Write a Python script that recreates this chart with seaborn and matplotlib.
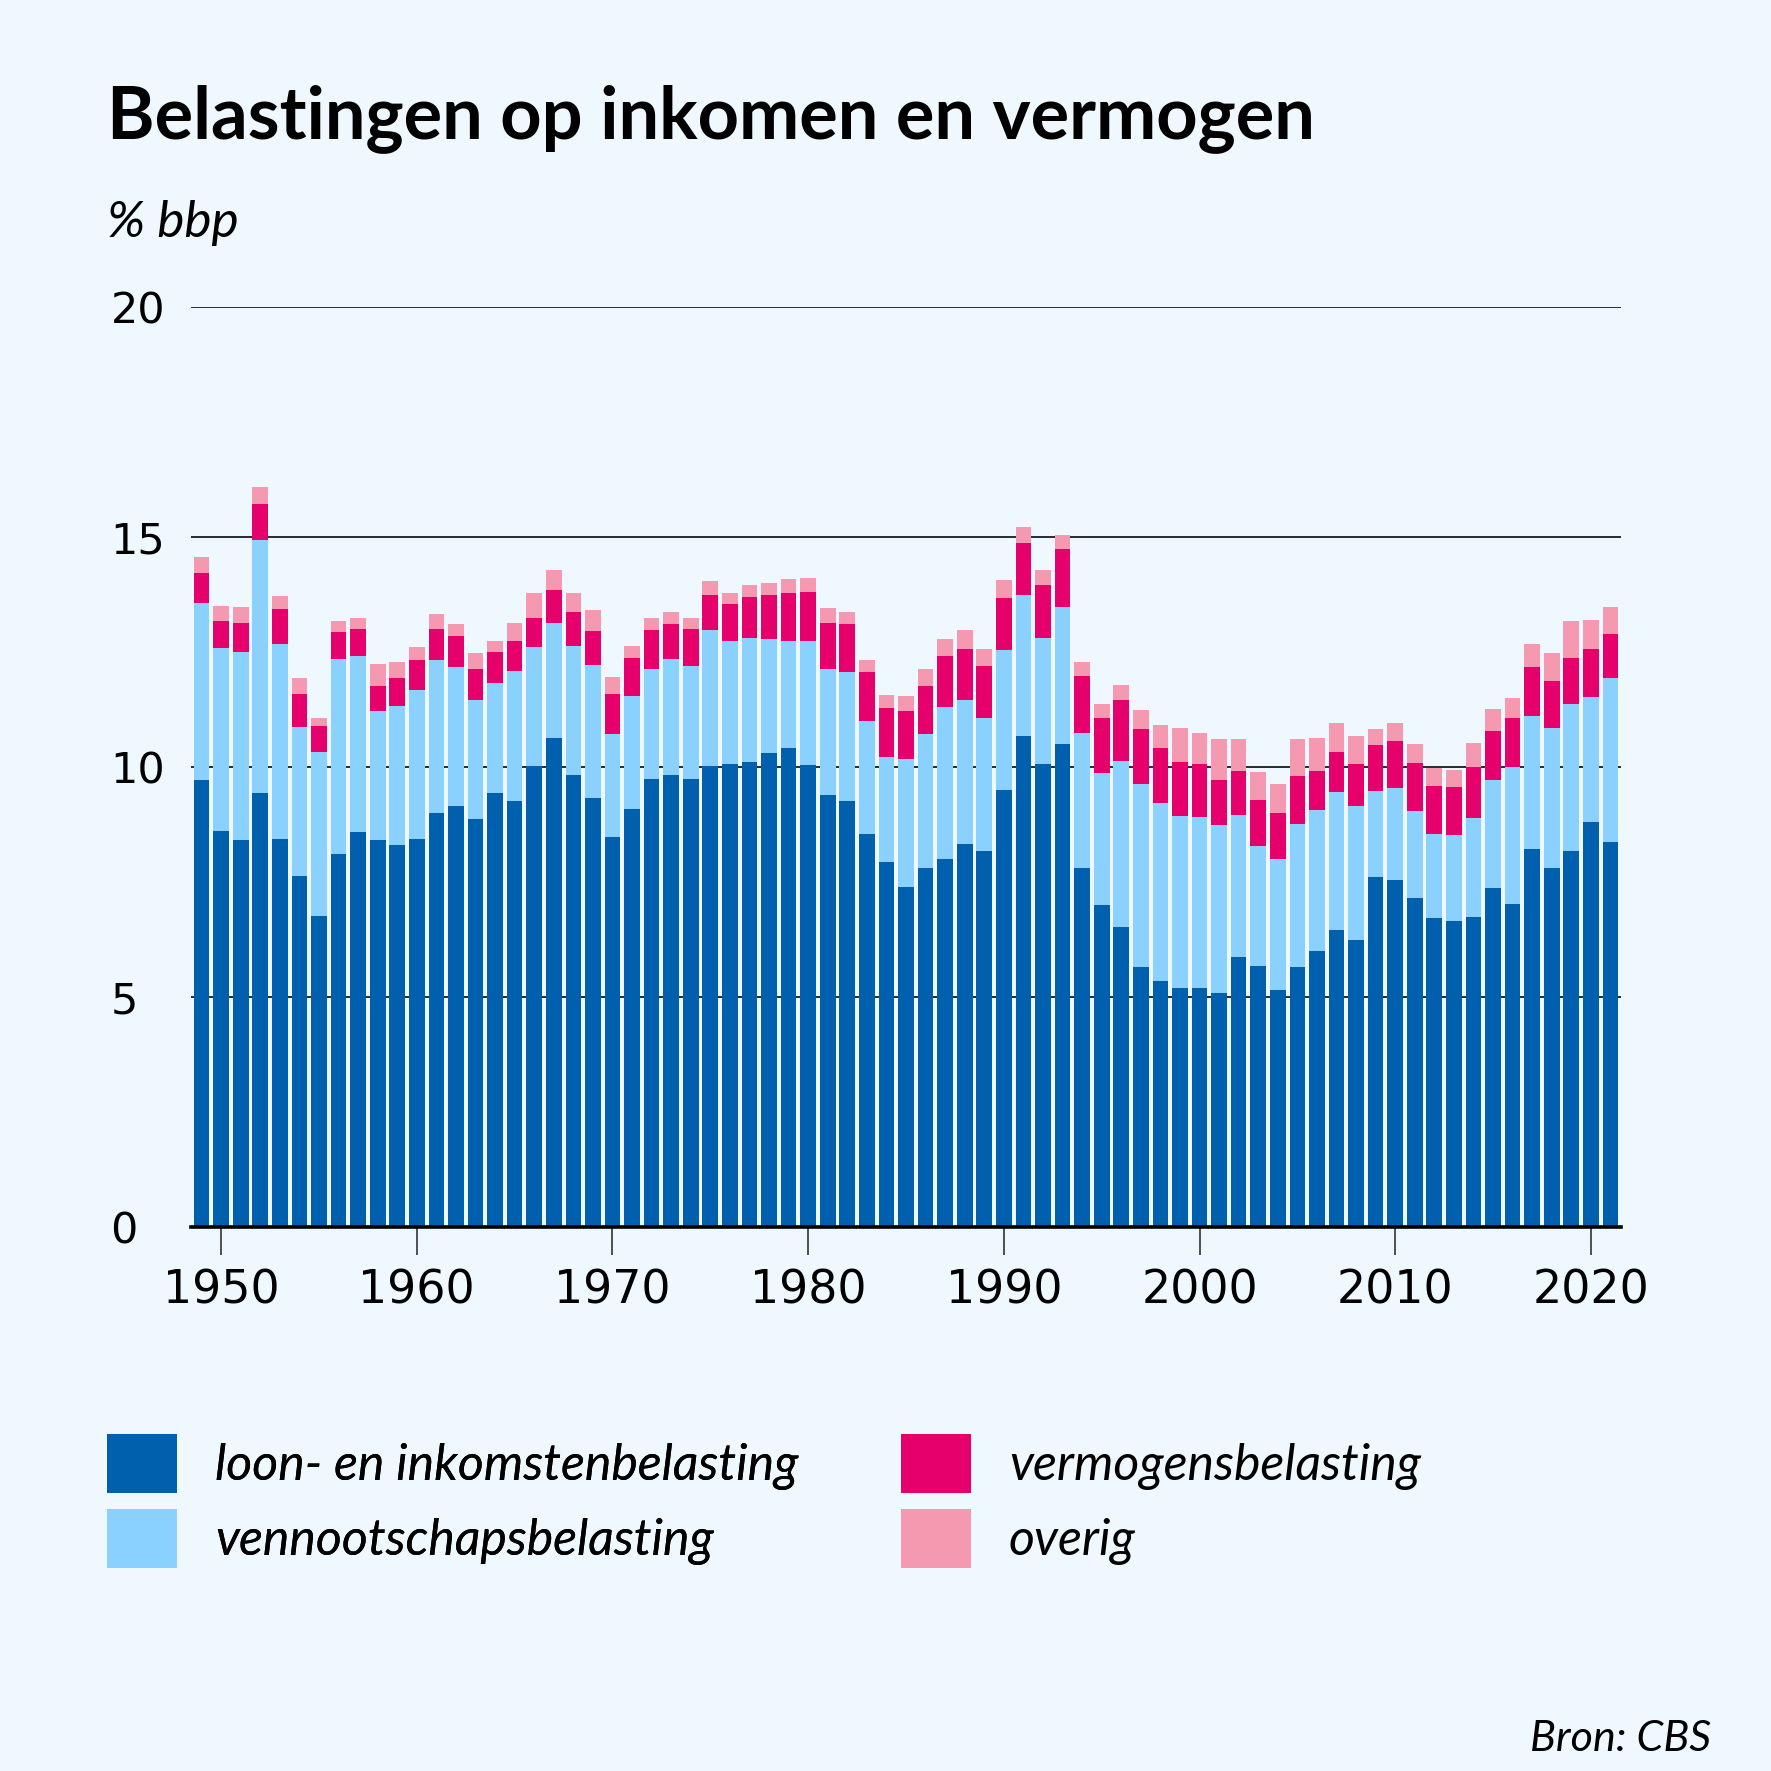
import numpy as np
import pandas as pd
import matplotlib
matplotlib.use('Agg')
import matplotlib.pyplot as plt
import seaborn as sns
from matplotlib.patches import Patch

# --- data (% bbp) --------------------------------------------------------
years = list(range(1949, 2022))

loon = [9.71, 8.60, 8.41, 9.43, 8.43, 7.62, 6.75, 8.10, 8.58, 8.41,
        8.30, 8.43, 8.99, 9.14, 8.86, 9.43, 9.25, 10.01, 10.62, 9.82,
        9.32, 8.47, 9.08, 9.73, 9.82, 9.73, 10.01, 10.06, 10.10, 10.30,
        10.41, 10.04, 9.38, 9.25, 8.54, 7.93, 7.39, 7.80, 8.00, 8.32,
        8.17, 9.49, 10.67, 10.06, 10.51, 7.80, 6.99, 6.51, 5.64, 5.34,
        5.19, 5.19, 5.08, 5.86, 5.67, 5.14, 5.64, 5.99, 6.45, 6.23,
        7.61, 7.54, 7.15, 6.72, 6.65, 6.74, 7.37, 7.02, 8.22, 7.80,
        8.17, 8.80, 8.37]

vennootschap = [3.85, 3.98, 4.10, 5.50, 4.24, 3.24, 3.57, 4.24, 3.83, 2.80,
                3.02, 3.24, 3.33, 3.03, 2.59, 2.39, 2.83, 2.59, 2.52, 2.80,
                2.89, 2.24, 2.46, 2.39, 2.52, 2.46, 2.96, 2.67, 2.70, 2.48,
                2.32, 2.69, 2.74, 2.81, 2.47, 2.28, 2.78, 2.91, 3.30, 3.13,
                2.89, 3.05, 3.08, 2.74, 2.96, 2.93, 2.87, 3.63, 3.98, 3.87,
                3.74, 3.72, 3.65, 3.09, 2.61, 2.85, 3.11, 3.07, 3.00, 2.91,
                1.87, 2.00, 1.89, 1.82, 1.87, 2.15, 2.35, 2.98, 2.89, 3.05,
                3.20, 2.72, 3.56]

vermogen = [0.65, 0.59, 0.63, 0.80, 0.76, 0.72, 0.56, 0.59, 0.58, 0.54,
            0.61, 0.65, 0.69, 0.67, 0.69, 0.67, 0.65, 0.65, 0.70, 0.74,
            0.74, 0.87, 0.82, 0.85, 0.76, 0.82, 0.78, 0.81, 0.89, 0.95,
            1.05, 1.07, 1.02, 1.04, 1.05, 1.07, 1.04, 1.06, 1.11, 1.11,
            1.13, 1.13, 1.13, 1.15, 1.28, 1.24, 1.20, 1.31, 1.20, 1.20,
            1.17, 1.15, 0.98, 0.96, 1.00, 1.00, 1.05, 0.85, 0.87, 0.92,
            1.00, 1.03, 1.05, 1.05, 1.05, 1.11, 1.06, 1.07, 1.06, 1.02,
            1.00, 1.05, 0.96]

overig = [0.35, 0.32, 0.33, 0.35, 0.28, 0.35, 0.18, 0.24, 0.26, 0.48,
          0.35, 0.28, 0.31, 0.28, 0.33, 0.26, 0.41, 0.53, 0.44, 0.42,
          0.46, 0.37, 0.28, 0.26, 0.26, 0.22, 0.29, 0.24, 0.26, 0.28,
          0.30, 0.30, 0.31, 0.28, 0.26, 0.28, 0.33, 0.35, 0.37, 0.41,
          0.37, 0.39, 0.35, 0.33, 0.29, 0.31, 0.30, 0.33, 0.41, 0.50,
          0.74, 0.67, 0.89, 0.69, 0.60, 0.65, 0.80, 0.73, 0.63, 0.61,
          0.35, 0.39, 0.41, 0.39, 0.36, 0.52, 0.48, 0.43, 0.50, 0.61,
          0.80, 0.63, 0.59]

series = ['loon- en inkomstenbelasting', 'vennootschapsbelasting',
          'vermogensbelasting', 'overig']
colors = ['#0060AE', '#8AD1FF', '#E5006C', '#F499B0']

BG = '#EEF8FE'
SANS = ['Lato', 'DejaVu Sans']

df = pd.DataFrame({'jaar': years, series[0]: loon, series[1]: vennootschap,
                   series[2]: vermogen, series[3]: overig})
# cumulative tops, drawn from the top layer down so that they stack
cum = df[series].cumsum(axis=1)

fig = plt.figure(figsize=(17.71, 17.71), dpi=100, facecolor=BG)
ax = fig.add_axes([191 / 1771, 1 - 1226.7 / 1771, 1430 / 1771, 919.5 / 1771])
ax.set_facecolor(BG)

for name, col in zip(series[::-1], colors[::-1]):
    sns.barplot(x=df['jaar'], y=cum[name], color=col, saturation=1,
                width=0.8, linewidth=0, ax=ax, order=years)

ax.set_ylim(0, 20)
ax.set_xlim(-0.54, len(years) - 1 + 0.54)
ax.set_xlabel('')
ax.set_ylabel('')

# axis styling
ax.set_axisbelow(True)
ax.set_yticks([0, 5, 10, 15, 20])
ax.set_yticklabels(['0', '5', '10', '15', '20'])
ax.yaxis.grid(True, color='#1a1a1a', linewidth=1.3)
ax.xaxis.grid(False)
for s in ['left', 'right', 'top']:
    ax.spines[s].set_visible(False)
ax.spines['bottom'].set_color('black')
ax.spines['bottom'].set_linewidth(2.6)
ax.tick_params(axis='y', length=0, pad=58, labelsize=31, labelcolor='black')
for lab in ax.get_yticklabels():
    lab.set_horizontalalignment('left')

decades = list(range(1950, 2021, 10))
ax.set_xticks([years.index(d) for d in decades])
ax.set_xticklabels([str(d) for d in decades])
ax.tick_params(axis='x', length=20, width=1.1, color='#222222', pad=10,
               labelsize=33, labelcolor='black')

# texts
fig.text(107 / 1771, 1 - 138 / 1771, 'Belastingen op inkomen en vermogen',
         fontsize=52, fontweight='bold', family=SANS,
         va='baseline', ha='left')
fig.text(107 / 1771, 1 - 237 / 1771, '% bbp', fontsize=37, style='italic',
         family=SANS, va='baseline', ha='left')
fig.text(1711 / 1771, 1 - 1751 / 1771, 'Bron: CBS', fontsize=31,
         style='italic', family=SANS, va='baseline', ha='right')

# legend in two single-column blocks
handles = [Patch(facecolor=c, edgecolor='none') for c in colors]
leg_kw = dict(loc='upper left', frameon=False, borderpad=0, borderaxespad=0,
              handlelength=1.4, handleheight=1.44, handletextpad=0.76,
              labelspacing=0.31,
              prop={'family': SANS, 'style': 'italic', 'size': 36})
leg1 = fig.legend(handles[:2], series[:2],
                  bbox_to_anchor=(107 / 1771, 1 - 1434 / 1771), **leg_kw)
fig.add_artist(leg1)
fig.legend(handles[2:], series[2:],
           bbox_to_anchor=(901 / 1771, 1 - 1434 / 1771), **leg_kw)

fig.savefig('out.png', dpi=100, facecolor=BG)
